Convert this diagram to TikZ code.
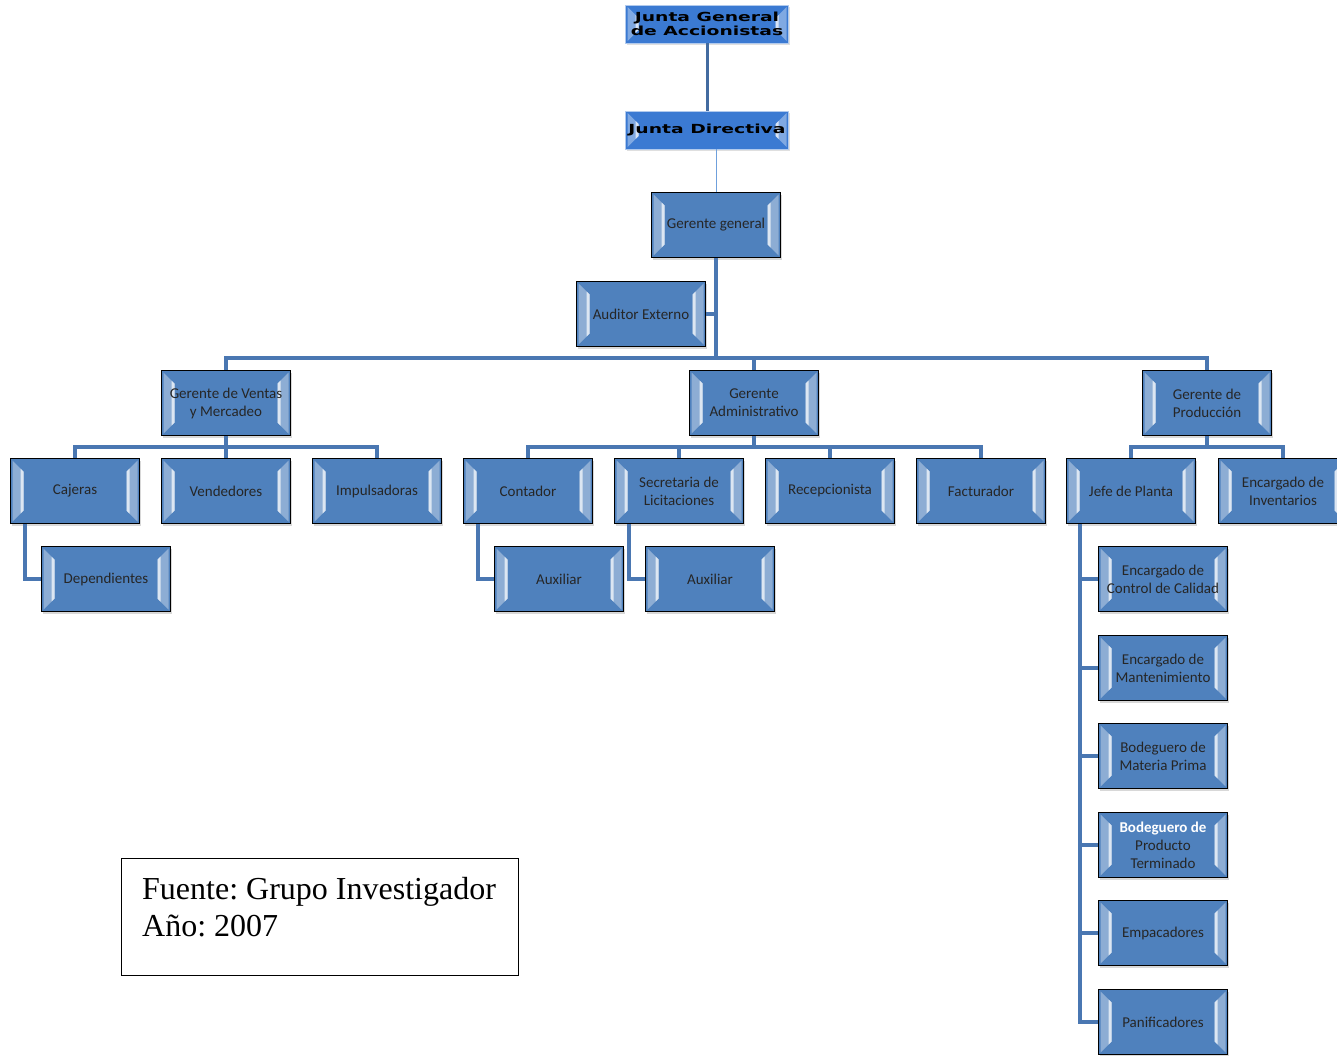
\documentclass[tikz,border=0pt]{standalone}
\usepackage{fontspec}
\setmainfont{Liberation Serif}
\newfontfamily\orgfont{Carlito}
\newfontfamily\juntafont{DejaVu Sans}
\usetikzlibrary{positioning, calc, shadows}

\definecolor{boxblue}{HTML}{4F81BD}
\definecolor{linkblue}{HTML}{4A77B2}
\definecolor{topblue}{HTML}{3B7AD2}
\definecolor{thinblue}{HTML}{6FA0DC}

\tikzset{
  bevel/.style={path picture={
      \coordinate (pnw) at (path picture bounding box.north west);
      \coordinate (psw) at (path picture bounding box.south west);
      \coordinate (pne) at (path picture bounding box.north east);
      \coordinate (pse) at (path picture bounding box.south east);
      \fill[white!35!#1] ($(pnw)+(2pt,-2pt)$) -- ($(pnw)+(13pt,-13pt)$)
        -- ($(psw)+(13pt,13pt)$) -- ($(psw)+(2pt,2pt)$) -- cycle;
      \fill[white!80!#1] ($(pnw)+(10pt,-10pt)$) -- ($(pnw)+(13pt,-13pt)$)
        -- ($(psw)+(13pt,13pt)$) -- ($(psw)+(10pt,10pt)$) -- cycle;
      \fill[white!35!#1] ($(pne)+(-2pt,-2pt)$) -- ($(pne)+(-13pt,-13pt)$)
        -- ($(pse)+(-13pt,13pt)$) -- ($(pse)+(-2pt,2pt)$) -- cycle;
      \fill[white!80!#1] ($(pne)+(-10pt,-10pt)$) -- ($(pne)+(-13pt,-13pt)$)
        -- ($(pse)+(-13pt,13pt)$) -- ($(pse)+(-10pt,10pt)$) -- cycle;
  }},
  orgbox/.style={draw=black, line width=1.3pt, fill=boxblue, bevel=boxblue,
    minimum width=129pt, minimum height=65pt, inner sep=1pt, align=center,
    text=black!85, font=\orgfont\fontsize{15}{18}\selectfont,
    drop shadow={shadow xshift=1.5pt, shadow yshift=-2pt, opacity=0.3}},
  juntabox/.style={draw=white!60!topblue, line width=0.8pt, fill=topblue, bevel=topblue,
    minimum width=163pt, minimum height=38pt, inner sep=0pt, align=center,
    font=\juntafont\bfseries\fontsize{12.5}{14.5}\selectfont,
    drop shadow={shadow xshift=1pt, shadow yshift=-1.5pt, opacity=0.25}},
  link/.style={draw=linkblue, line width=4.5pt},
  sublink/.style={draw=linkblue, line width=4pt},
  thinlink/.style={draw=thinblue, line width=0.9pt},
  notebox/.style={draw=black, line width=1pt, minimum width=397pt, minimum height=117pt}
}

\begin{document}
\frenchspacing
\begin{tikzpicture}[x=1pt, y=-1pt]
\clip (0,0) rectangle (1337,1055);
\fill[white] (0,0) rectangle (1337,1055);

\node[juntabox] (jga) at (707,24) {\scalebox{1.5}[1]{Junta General}\\\scalebox{1.5}[1]{de Accionistas}};
\node[juntabox] (jd) at (707,130) {\scalebox{1.5}[1]{Junta Directiva}};
\node[orgbox] (gg) at (716,225) {Gerente general};
\node[orgbox] (aud) at (641,314) {Auditor Externo};

\node[orgbox] (gvm) at (226,403) {Gerente de Ventas\\y Mercadeo};
\node[orgbox] (gad) at (754,403) {Gerente\\Administrativo};
\node[orgbox] (gpr) at (1207,403) {Gerente de\\Producción};

\node[orgbox] (caj) at (75,491) {Cajeras};
\node[orgbox] (ven) at (226,491) {Vendedores};
\node[orgbox] (imp) at (377,491) {Impulsadoras};
\node[orgbox] (con) at (528,491) {Contador};
\node[orgbox] (sec) at (679,491) {Secretaria de\\Licitaciones};
\node[orgbox] (rec) at (830,491) {Recepcionista};
\node[orgbox] (fac) at (981,491) {Facturador};
\node[orgbox] (jpl) at (1131,491) {Jefe de Planta};
\node[orgbox] (inv) at (1283,491) {Encargado de\\Inventarios};

\node[orgbox] (dep) at (106,579) {Dependientes};
\node[orgbox] (aux1) at (559,579) {Auxiliar};
\node[orgbox] (aux2) at (710,579) {Auxiliar};

\node[orgbox] (ecc) at (1163,579) {Encargado de\\Control de Calidad};
\node[orgbox] (eman) at (1163,668) {Encargado de\\Mantenimiento};
\node[orgbox] (bmp) at (1163,756) {Bodeguero de\\Materia Prima};
\node[orgbox] (bpt) at (1163,845) {\textcolor{white}{\bfseries Bodeguero de}\\Producto\\Terminado};
\node[orgbox] (emp) at (1163,933) {Empacadores};
\node[orgbox] (pan) at (1163,1022) {Panificadores};

\coordinate (bus) at (716,358);
\coordinate (bar) at (0,447);

\draw[link, draw=linkblue!90!black, line width=3pt] (jga.south) -- (jd.north);
\draw[thinlink] (gg.north) -- (gg.north |- jd.south);
\draw[link] (gg.south) -- (gg.south |- bus);
\draw[sublink] (aud.east) -- (aud.east -| gg.south);
\draw[link] (gvm.north) -- (gvm.north |- bus) -| (gpr.north);
\draw[link] (gad.north) -- (gad.north |- bus);

\draw[sublink] (caj.north) -- (caj.north |- bar) -| (imp.north);
\draw[sublink] (gvm.south) -- (ven.north);
\draw[sublink] (con.north) -- (con.north |- bar) -| (fac.north);
\draw[sublink] (gad.south) -- (gad.south |- bar);
\draw[sublink] (sec.north) -- (sec.north |- bar);
\draw[sublink] (rec.north) -- (rec.north |- bar);
\draw[sublink] (jpl.north) -- (jpl.north |- bar) -| (inv.north);
\draw[sublink] (gpr.south) -- (gpr.south |- bar);

\draw[sublink] ($(caj.south west)+(15pt,0)$) |- (dep.west);
\draw[sublink] ($(con.south west)+(15pt,0)$) |- (aux1.west);
\draw[sublink] ($(sec.south west)+(15pt,0)$) |- (aux2.west);
\draw[sublink] ($(jpl.south west)+(14pt,0)$) |- (pan.west);
\foreach \e in {ecc, eman, bmp, bpt, emp}
  \draw[sublink] (\e.west) -- ++(-19pt,0);

\node[notebox] (nota) at (319.5,916.5) {};
\node[anchor=base west, inner sep=0pt, font=\fontsize{32}{37}\selectfont] (fuente) at (142,899) {Fuente: Grupo Investigador};
\node[anchor=base west, inner sep=0pt, font=\fontsize{32}{37}\selectfont] (anio) at (142,936) {Año: 2007};
\end{tikzpicture}
\end{document}
